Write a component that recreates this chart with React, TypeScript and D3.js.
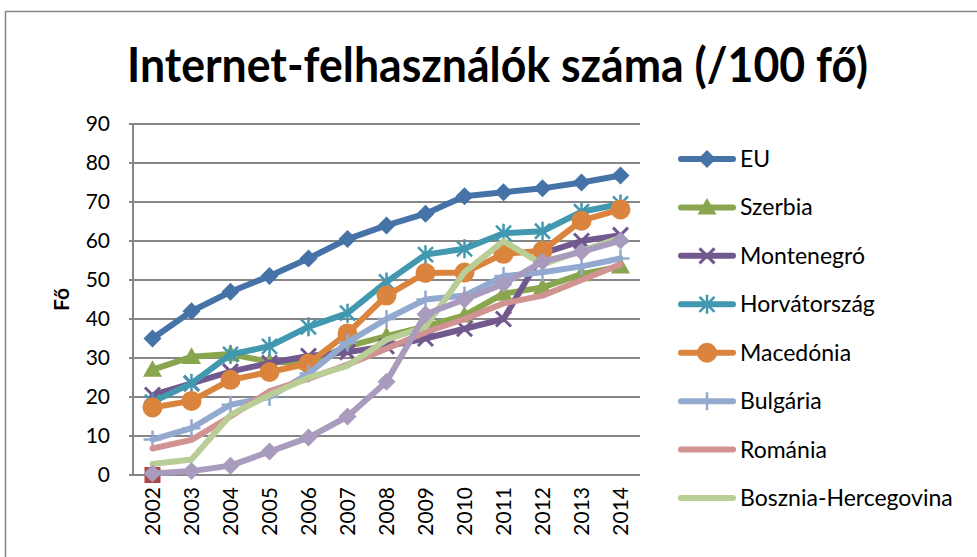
import React from "react";
import * as d3 from "d3";

const years = ["2002","2003","2004","2005","2006","2007","2008","2009","2010","2011","2012","2013","2014"];
const yTicks = [0,10,20,30,40,50,60,70,80,90];

const eu = [35, 42, 47, 51, 55.5, 60.5, 64, 67, 71.5, 72.5, 73.5, 75, 76.8];
const koszovo: (number | null)[] = [0, null, null, null, null, null, null, null, null, null, null, null, null];
const szerbia = [27, 30.3, 31, 29, 28.8, 33, 35.6, 38.1, 40.9, 46.5, 48.1, 51.5, 53.5];
const montenegro = [20.5, 23.5, 26.5, 28.7, 30.5, 31.5, 33, 35, 37.5, 40, 56.8, 60, 61.5];
const horvatorszag = [18.7, 23.5, 30.9, 33, 38, 41.5, 49.5, 56.5, 58, 62, 62.5, 67.5, 69.5];
const macedonia = [17.3, 19, 24.4, 26.4, 28.6, 36.3, 46, 51.8, 51.9, 56.7, 57.5, 65.2, 68.1];
const bulgaria = [9.1, 12, 18, 20, 26, 34, 40, 45, 46, 51, 52, 53.5, 55.5];
const romania = [6.8, 9, 15, 21.5, 24.7, 28.3, 32.4, 36.6, 40, 44, 46, 50, 54];
const bosznia = [2.8, 4, 15.4, 20.5, 25, 28, 34.7, 38, 52, 60, 54, 57.5, 60.8];
const albania = [0.4, 1, 2.4, 6, 9.6, 15, 23.9, 41.2, 45, 49, 54.7, 57.2, 60.1];

type Marker = "diamond" | "square" | "triangle" | "x" | "star" | "circle" | "plus" | "none";
interface Series { name: string; values: (number | null)[]; color: string; marker: Marker; legend: boolean; }

const series: Series[] = [
  { name: "EU", values: eu, color: "#4572A7", marker: "diamond", legend: true },
  { name: "Koszovó", values: koszovo, color: "#AA4643", marker: "square", legend: false },
  { name: "Szerbia", values: szerbia, color: "#89A54E", marker: "triangle", legend: true },
  { name: "Montenegró", values: montenegro, color: "#71588F", marker: "x", legend: true },
  { name: "Horvátország", values: horvatorszag, color: "#4198AF", marker: "star", legend: true },
  { name: "Macedónia", values: macedonia, color: "#DB843D", marker: "circle", legend: true },
  { name: "Bulgária", values: bulgaria, color: "#93A9CF", marker: "plus", legend: true },
  { name: "Románia", values: romania, color: "#D19392", marker: "none", legend: true },
  { name: "Bosznia-Hercegovina", values: bosznia, color: "#B9CD96", marker: "none", legend: true },
  { name: "Albánia", values: albania, color: "#A99BBD", marker: "diamond", legend: false },
];

const W = 977, H = 557;
const plot = { left: 133, right: 640, top: 124, bottom: 475 };
const FONT = "Lato, 'Open Sans', sans-serif";

function MarkerShape({ type, x, y, color }: { type: Marker; x: number; y: number; color: string }) {
  switch (type) {
    case "diamond": {
      const s = 9;
      return <path d={`M${x},${y - s}L${x + s},${y}L${x},${y + s}L${x - s},${y}Z`} fill={color} />;
    }
    case "square": {
      const s = 8;
      return <rect x={x - s} y={y - s} width={2 * s} height={2 * s} fill={color} />;
    }
    case "triangle": {
      const s = 9.5;
      return <path d={`M${x},${y - s}L${x + s},${y + s * 0.75}L${x - s},${y + s * 0.75}Z`} fill={color} />;
    }
    case "circle":
      return <circle cx={x} cy={y} r={10} fill={color} />;
    case "x": {
      const s = 7.5;
      return <path d={`M${x - s},${y - s}L${x + s},${y + s}M${x - s},${y + s}L${x + s},${y - s}`} stroke={color} strokeWidth={3} />;
    }
    case "star": {
      const s = 7.5;
      return <path d={`M${x - s},${y - s}L${x + s},${y + s}M${x - s},${y + s}L${x + s},${y - s}M${x},${y - s - 2}L${x},${y + s + 2}`} stroke={color} strokeWidth={2.5} />;
    }
    case "plus": {
      const s = 9;
      return <path d={`M${x - s},${y}L${x + s},${y}M${x},${y - s}L${x},${y + s}`} stroke={color} strokeWidth={2.5} />;
    }
    default:
      return null;
  }
}

export default function App() {
  const x = d3.scaleBand<string>().domain(years).range([plot.left, plot.right]);
  const y = d3.scaleLinear().domain([0, 90]).range([plot.bottom, plot.top]);
  const cx = (yr: string) => (x(yr) as number) + x.bandwidth() / 2;
  const line = d3.line<number | null>()
    .defined(d => d !== null)
    .x((_, i) => cx(years[i]))
    .y(d => y(d as number));

  const legendItems = series.filter(s => s.legend);
  const legendY = d3.scaleLinear().domain([0, legendItems.length - 1]).range([159, 498]);

  return (
    <svg width={W} height={H} style={{ position: "absolute", left: 0, top: 0, background: "#fff" }}>
      <rect x={0} y={0} width={W} height={H} fill="#fff" />
      {/* outer frame */}
      <path d={`M5.5,${H}L5.5,11.5L${W},11.5`} fill="none" stroke="#868686" strokeWidth={1.5} />
      {/* title */}
      <text x={127} y={82} fontFamily={FONT} fontWeight={700} fontSize={47} textLength={741} lengthAdjust="spacingAndGlyphs" fill="#000">
        Internet-felhasználók száma (/100 fő)
      </text>
      {/* gridlines */}
      {yTicks.map(t => (
        <g key={t}>
          <line x1={plot.left - 4} x2={plot.right} y1={y(t)} y2={y(t)} stroke="#868686" strokeWidth={2} />
          <text x={110} y={y(t)} dy="0.35em" textAnchor="end" fontFamily={FONT} fontSize={21} fill="#000">{t}</text>
        </g>
      ))}
      <line x1={plot.left} x2={plot.left} y1={plot.top} y2={plot.bottom} stroke="#868686" strokeWidth={2} />
      {years.map(yr => (
        <text key={yr} transform={`translate(${cx(yr)},${plot.bottom + 12}) rotate(-90)`} textAnchor="end" dy="0.35em" fontFamily={FONT} fontSize={21} fill="#000">{yr}</text>
      ))}
      <text transform={`translate(62,${(plot.top + plot.bottom) / 2}) rotate(-90)`} textAnchor="middle" dy="0.35em" fontFamily={FONT} fontWeight={700} fontSize={21} fill="#000">Fő</text>
      {/* series */}
      {series.map(s => (
        <g key={s.name}>
          <path d={line(s.values) || ""} fill="none" stroke={s.color} strokeWidth={6} strokeLinejoin="round" strokeLinecap="round" />
          {s.values.map((v, i) => v === null ? null : (
            <MarkerShape key={i} type={s.marker} x={cx(years[i])} y={y(v)} color={s.color} />
          ))}
        </g>
      ))}
      {/* legend */}
      {legendItems.map((s, i) => {
        const ly = legendY(i);
        return (
          <g key={s.name}>
            <line x1={681} x2={733} y1={ly} y2={ly} stroke={s.color} strokeWidth={6} strokeLinecap="round" />
            <MarkerShape type={s.marker} x={707} y={ly} color={s.color} />
            <text x={740} y={ly} dy="0.35em" fontFamily={FONT} fontSize={23} fill="#000">{s.name}</text>
          </g>
        );
      })}
    </svg>
  );
}
